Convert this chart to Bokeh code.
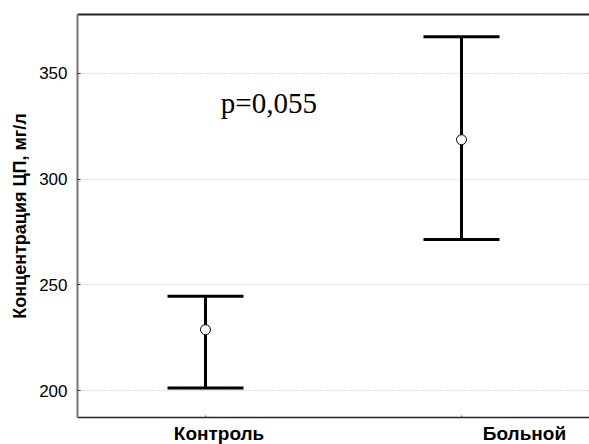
from bokeh.plotting import figure
from bokeh.models import (ColumnDataSource, Whisker, TeeHead, Label, LinearAxis,
                          FixedTicker, SingleIntervalTicker, Range1d)
from bokeh.embed import file_html
from bokeh.resources import INLINE

# ---- data ----
groups = ["Контроль", "Больной"]
means = [228.8, 318.6]
upper = [244.6, 367.3]
lower = [201.3, 271.4]
y_label = "Концентрация ЦП, мг/л"
p_text = "p=0,055"

# layout: category slots are one unit wide, centred at index + 0.5
xs = [i + 0.5 for i in range(len(groups))]
# category label centres (labels sit off-centre as in the original)
label_x = [0.553, 1.746]

src = ColumnDataSource(dict(x=xs, g=groups, mean=means, upper=upper, lower=lower))

p = figure(frame_width=512, frame_height=403, x_range=Range1d(0, len(groups)),
           y_range=Range1d(187.3, 377.8), output_backend="svg",
           toolbar_location=None, min_border_left=77, min_border_right=0,
           min_border_top=14, min_border_bottom=27)
p.outline_line_color = None
p.background_fill_color = "white"
p.border_fill_color = "white"

w = Whisker(source=src, base="x", upper="upper", lower="lower",
            line_color="black", line_width=3,
            upper_head=TeeHead(size=76, line_width=3, line_color="black"),
            lower_head=TeeHead(size=76, line_width=3, line_color="black"))
p.add_layout(w)
p.scatter(x="x", y="mean", source=src, size=10, fill_color="white",
          line_color="black", line_width=1)

p.add_layout(Label(x=0.56, y=336, text=p_text, text_font="Liberation Serif",
                   text_font_size="29px", text_baseline="middle",
                   text_color="black"))

# y axis
yax = p.yaxis[0]
yax.ticker = SingleIntervalTicker(interval=50)
yax.axis_label = y_label
yax.axis_label_text_font = "Liberation Sans"
yax.axis_label_text_font_style = "bold"
yax.axis_label_text_font_size = "18px"
yax.axis_label_text_color = "black"
yax.axis_label_standoff = 6
yax.major_label_text_font = "Liberation Sans"
yax.major_label_text_font_size = "17px"
yax.major_label_text_color = "black"
yax.major_label_standoff = 6
yax.axis_line_color = "#777777"
yax.axis_line_width = 2
yax.major_tick_in = 3
yax.major_tick_out = 0
yax.major_tick_line_color = "#333333"
yax.minor_tick_line_color = None

# x axis line with small ticks at the category centres
xax = p.xaxis[0]
xax.ticker = FixedTicker(ticks=xs)
xax.major_label_text_font_size = "0px"
xax.major_label_standoff = 0
xax.axis_line_color = "#222222"
xax.axis_line_width = 1.5
xax.major_tick_in = 2
xax.major_tick_out = 0
xax.major_tick_line_color = "#555555"
xax.minor_tick_line_color = None

# category labels on their own axis
lab_axis = LinearAxis(ticker=FixedTicker(ticks=label_x),
                      major_label_overrides={lx: g for lx, g in zip(label_x, groups)},
                      axis_line_color=None, major_tick_line_color=None,
                      minor_tick_line_color=None, major_tick_out=0, major_tick_in=0,
                      major_label_standoff=5,
                      major_label_text_font="Liberation Sans",
                      major_label_text_font_style="bold",
                      major_label_text_font_size="19px",
                      major_label_text_color="black")
p.add_layout(lab_axis, "below")

top = LinearAxis(ticker=FixedTicker(ticks=[]), axis_line_color="#222222",
                 axis_line_width=2, major_label_text_font_size="0px",
                 major_tick_line_color=None, minor_tick_line_color=None)
p.add_layout(top, "above")

p.xgrid.grid_line_color = None
p.ygrid.grid_line_color = "#bbbbbb"
p.ygrid.grid_line_dash = "1 2"
p.ygrid.grid_line_width = 1

open("out.html", "w").write(file_html(p, INLINE))
